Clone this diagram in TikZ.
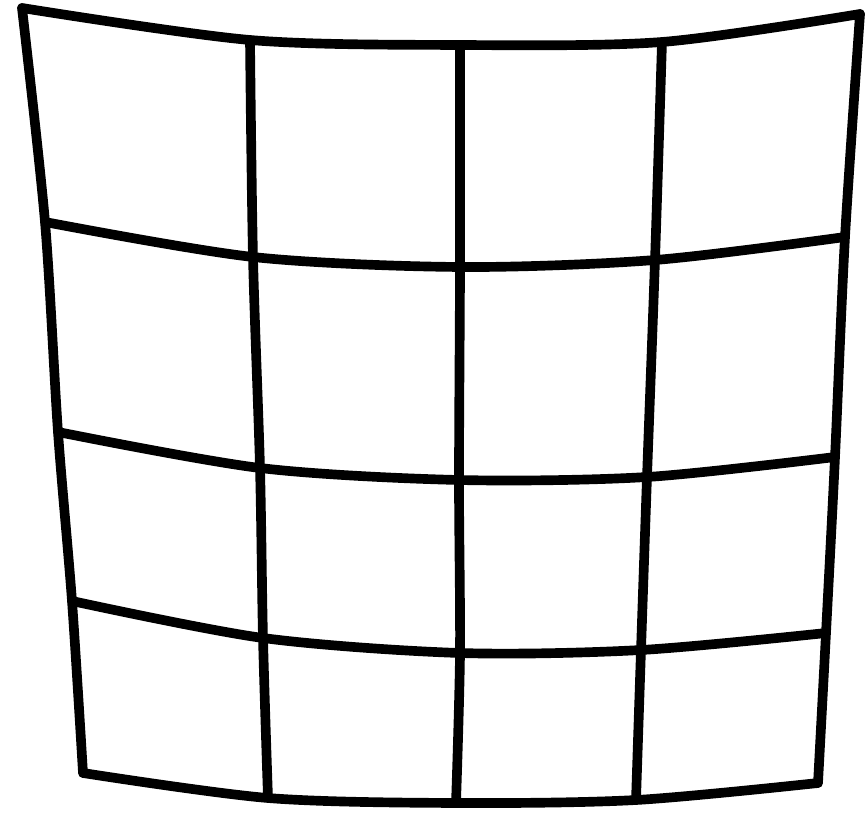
\documentclass[tikz,border=0pt]{standalone}
\usepackage{tikz}

\begin{document}
\begin{tikzpicture}[x=0.02cm, y=-0.02cm,
    gridline/.style={line width=5.5pt, line cap=round, line join=round}]
    \useasboundingbox (0,0) rectangle (868,813);

    % Grid points, row by row (top to bottom)
    \coordinate (p00) at (22,8);   \coordinate (p01) at (250,40);
    \coordinate (p02) at (460,45); \coordinate (p03) at (662,42);
    \coordinate (p04) at (860,14);

    \coordinate (p10) at (45,222);  \coordinate (p11) at (253,257);
    \coordinate (p12) at (460,267); \coordinate (p13) at (655,260);
    \coordinate (p14) at (845,237);

    \coordinate (p20) at (58,432);  \coordinate (p21) at (260,468);
    \coordinate (p22) at (459,480); \coordinate (p23) at (647,477);
    \coordinate (p24) at (835,457);

    \coordinate (p30) at (72,601);  \coordinate (p31) at (263,638);
    \coordinate (p32) at (460,653); \coordinate (p33) at (641,650);
    \coordinate (p34) at (826,633);

    \coordinate (p40) at (83,773);  \coordinate (p41) at (268,798);
    \coordinate (p42) at (456,803); \coordinate (p43) at (636,800);
    \coordinate (p44) at (818,783);

    % Horizontal lines
    \foreach \r in {0,...,4}
        \draw[gridline] plot[smooth] coordinates {(p\r0) (p\r1) (p\r2) (p\r3) (p\r4)};

    % Vertical lines
    \foreach \c in {0,...,4}
        \draw[gridline] plot[smooth] coordinates {(p0\c) (p1\c) (p2\c) (p3\c) (p4\c)};
\end{tikzpicture}
\end{document}
